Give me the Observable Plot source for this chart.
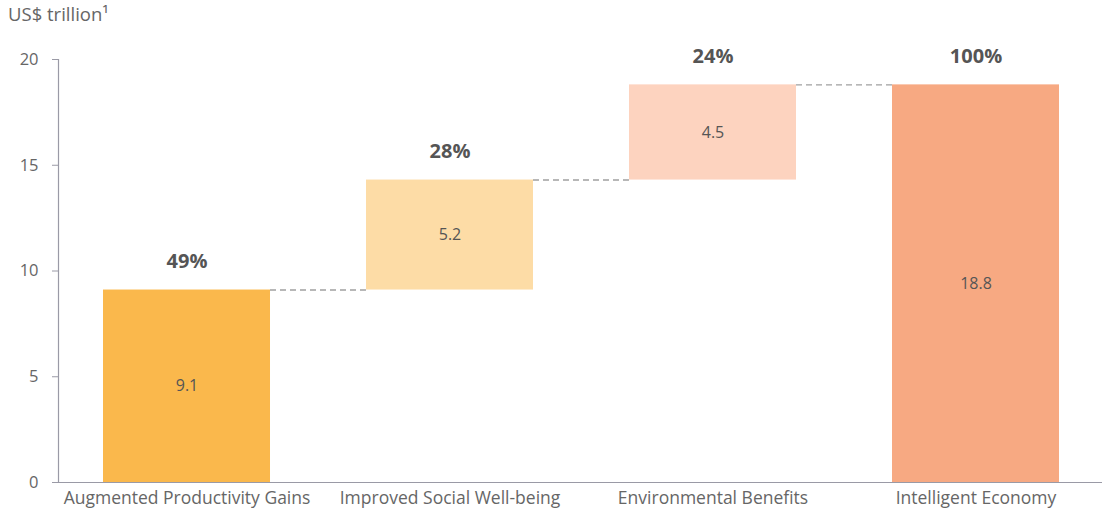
<!DOCTYPE html>
<html><head><meta charset="utf-8">
<script src="https://cdn.jsdelivr.net/npm/d3@7"></script>
<script src="https://cdn.jsdelivr.net/npm/@observablehq/plot@0.6"></script>
<style>
body{margin:0;background:#fff;font-family:"Open Sans",sans-serif;}
#wrap{position:relative;width:1102px;height:514px;}
#title{position:absolute;left:8px;top:1px;font-size:18.5px;color:#666;}
svg{display:block;}
</style></head><body>
<div id="wrap"><div id="title">US$ trillion¹</div></div>
<script>
const categories = ["Augmented Productivity Gains", "Improved Social Well-being", "Environmental Benefits", "Intelligent Economy"];
const values = [9.1, 5.2, 4.5, 18.8];
const shares = ["49%", "28%", "24%", "100%"];
const isTotal = [false, false, false, true];
const colors = ["#FAB84C", "#FDDCA6", "#FDD3BF", "#F7A982"];
const yTicks = [0, 5, 10, 15, 20];

const halfWidth = 0.3175;
const xDomain = [-0.4886, 3.481];

let cum = 0;
const rows = categories.map((c, i) => {
  const v = values[i];
  let base, top;
  if (isTotal[i]) { base = 0; top = v; }
  else { base = cum; top = cum + v; cum = top; }
  return {i, c, v, base, top, share: shares[i], color: colors[i]};
});
const connectors = rows.slice(0, -1).map((d, k) => ({
  x1: d.i + halfWidth, x2: rows[k + 1].i - halfWidth, y: d.top
}));

const chart = Plot.plot({
  width: 1102, height: 514,
  marginTop: 59, marginBottom: 32, marginLeft: 58, marginRight: 0,
  style: {fontFamily: "'Open Sans', sans-serif", fontSize: "16px", background: "#fff"},
  x: {domain: xDomain, axis: null},
  y: {domain: [0, 20], axis: null},
  color: {type: "identity"},
  marks: [
    Plot.ruleY(connectors, {x1: "x1", x2: "x2", y: "y", stroke: "#a0a0a0", strokeWidth: 1.4, strokeDasharray: "6,4"}),
    Plot.rectY(rows, {x1: d => d.i - halfWidth, x2: d => d.i + halfWidth, y1: "base", y2: "top", fill: "color"}),
    Plot.text(rows, {x: "i", y: d => (d.base + d.top) / 2, text: d => d.v.toFixed(1), fill: "#555", fontSize: 16}),
    Plot.text(rows, {x: "i", y: "top", text: "share", dy: -28, fill: "#555", fontSize: 20, fontWeight: "bold"}),
    Plot.ruleY([0], {stroke: "#9a9aa6", strokeWidth: 1.2}),
    Plot.ruleX([xDomain[0]], {y1: 0, y2: 20, stroke: "#9a9aa6", strokeWidth: 1.2}),
    Plot.axisY({ticks: yTicks, tickSize: 6, tickPadding: 14, fontSize: 16.5, stroke: "#9a9aa6", fill: "#666"}),
    Plot.axisX({ticks: [0, 1, 2, 3], tickFormat: i => categories[i], tickSize: 0, tickPadding: 9, fontSize: 17.5, fill: "#666"})
  ]
});
document.getElementById("wrap").prepend(chart);
</script>
</body></html>
